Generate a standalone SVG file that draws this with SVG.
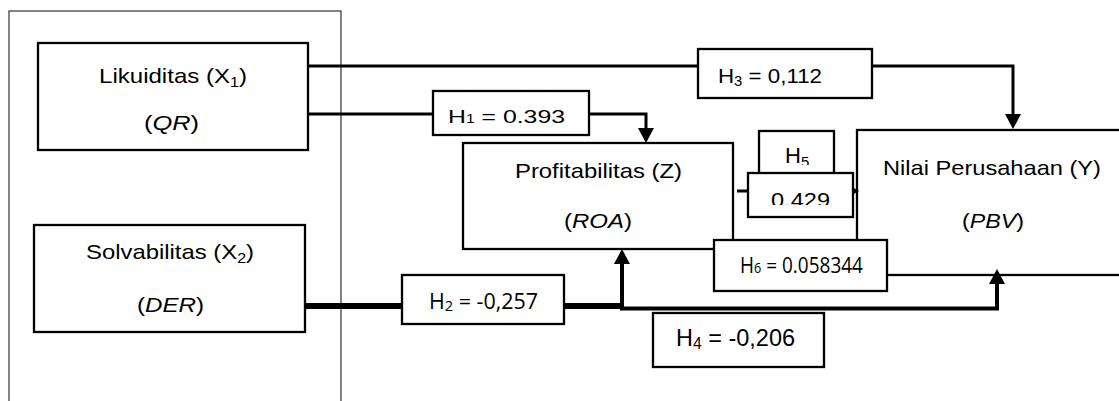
<svg xmlns="http://www.w3.org/2000/svg" width="1119" height="401" viewBox="0 0 1119 401">
<style>
.box{fill:#fff;stroke:#000;stroke-width:2.3}
.t{font-family:"Liberation Sans",Arial,sans-serif;fill:#000}
.o{font-family:"Open Sans","Noto Sans",sans-serif;fill:#000}
.c{fill:none;stroke:#000;stroke-linejoin:miter}
.i{font-style:italic}
</style>
<defs>
<marker id="ah" markerUnits="userSpaceOnUse" viewBox="0 -8 15 16" refX="0" refY="0" markerWidth="15" markerHeight="16" orient="auto"><path d="M0,-8 L15,0 L0,8 z" fill="#000"/></marker>
<marker id="ahs" markerUnits="userSpaceOnUse" viewBox="0 -3.5 6 7" refX="0" refY="0" markerWidth="6" markerHeight="7" orient="auto"><path d="M0,-3.5 L6,0 L0,3.5 z" fill="#000"/></marker>
<clipPath id="c5"><rect x="759" y="131" width="75" height="34"/></clipPath>
<clipPath id="c429"><rect x="748" y="173" width="105" height="32"/></clipPath>
</defs>
<rect id="frame" x="9" y="11" width="332" height="420" fill="none" stroke="#404040" stroke-width="1.3"/>
<g id="likuiditas">
<rect class="box" x="38" y="43" width="270" height="107"/>
<text class="t" x="99" y="83" font-size="21" textLength="148" lengthAdjust="spacingAndGlyphs">Likuiditas (X<tspan font-size="14" dy="4">1</tspan><tspan dy="-4">)</tspan></text>
<text class="t" x="144" y="130" font-size="21" textLength="55" lengthAdjust="spacingAndGlyphs">(<tspan class="i">QR</tspan>)</text>
</g>
<g id="solvabilitas">
<rect class="box" x="34" y="225" width="271" height="107"/>
<text class="t" x="86" y="259" font-size="21" textLength="168" lengthAdjust="spacingAndGlyphs">Solvabilitas (X<tspan font-size="14" dy="4">2</tspan><tspan dy="-4">)</tspan></text>
<text class="t" x="137" y="312" font-size="21" textLength="67" lengthAdjust="spacingAndGlyphs">(<tspan class="i">DER</tspan>)</text>
</g>
<g id="profitabilitas">
<rect class="box" x="463" y="143" width="270" height="106"/>
<text class="t" x="515" y="178" font-size="21" textLength="167" lengthAdjust="spacingAndGlyphs">Profitabilitas (Z)</text>
<text class="t" x="564" y="228" font-size="21" textLength="68" lengthAdjust="spacingAndGlyphs">(<tspan class="i">ROA</tspan>)</text>
</g>
<g id="nilai">
<rect class="box" x="857" y="130" width="300" height="145"/>
<text class="t" x="883" y="175" font-size="21" textLength="218" lengthAdjust="spacingAndGlyphs">Nilai Perusahaan (Y)</text>
<text class="t" x="962" y="228" font-size="21" textLength="62" lengthAdjust="spacingAndGlyphs">(<tspan class="i">PBV</tspan>)</text>
</g>
<g id="connectors">
<path class="c" d="M308,66 H1013 V114" stroke-width="3" marker-end="url(#ah)"/>
<path class="c" d="M308,114 H646 V128" stroke-width="3" marker-end="url(#ah)"/>
<path class="c" d="M737,191 H853" stroke-width="3" marker-end="url(#ahs)"/>
<path class="c" d="M305,306 H624" stroke-width="6"/>
<path class="c" d="M622,309 V264" stroke-width="4" marker-end="url(#ah)"/>
<path class="c" d="M620,308.5 H997 V284" stroke-width="4" marker-end="url(#ah)"/>
</g>
<g id="label-h3">
<rect class="box" x="698" y="49" width="174" height="49"/>
<text class="t" x="718" y="83" font-size="21" textLength="104" lengthAdjust="spacingAndGlyphs">H<tspan font-size="14" dy="3">3</tspan><tspan dy="-3"> = 0,112</tspan></text>
</g>
<g id="label-h1">
<rect class="box" x="433" y="91" width="156" height="44"/>
<text class="t" x="448" y="123" font-size="19" textLength="117" lengthAdjust="spacingAndGlyphs">H<tspan font-size="12">1</tspan> = 0.393</text>
</g>
<g id="label-h5">
<rect class="box" x="759" y="131" width="75" height="48"/>
<text class="t" x="785" y="163" font-size="22" clip-path="url(#c5)">H<tspan font-size="15" dy="4">5</tspan></text>
</g>
<g id="label-h5-value">
<rect class="box" x="748" y="173" width="105" height="44"/>
<text class="t" x="771" y="207" font-size="21" textLength="59" lengthAdjust="spacingAndGlyphs" clip-path="url(#c429)">0.429</text>
</g>
<g id="label-h6">
<rect class="box" x="714" y="240" width="173" height="51"/>
<text class="o" x="740" y="273" font-size="21" textLength="123" lengthAdjust="spacingAndGlyphs">H<tspan font-size="14">6</tspan> = 0.058344</text>
</g>
<g id="label-h2">
<rect class="box" x="402" y="275" width="162" height="49"/>
<text class="o" x="429" y="309" font-size="22" textLength="109" lengthAdjust="spacingAndGlyphs">H<tspan font-size="15" dy="2">2</tspan><tspan dy="-2"> = -0,257</tspan></text>
</g>
<g id="label-h4">
<rect class="box" x="653" y="313" width="171" height="54"/>
<text class="t" x="676" y="346" font-size="24" textLength="119" lengthAdjust="spacingAndGlyphs">H<tspan font-size="16" dy="3">4</tspan><tspan dy="-3"> = -0,206</tspan></text>
</g>
</svg>
